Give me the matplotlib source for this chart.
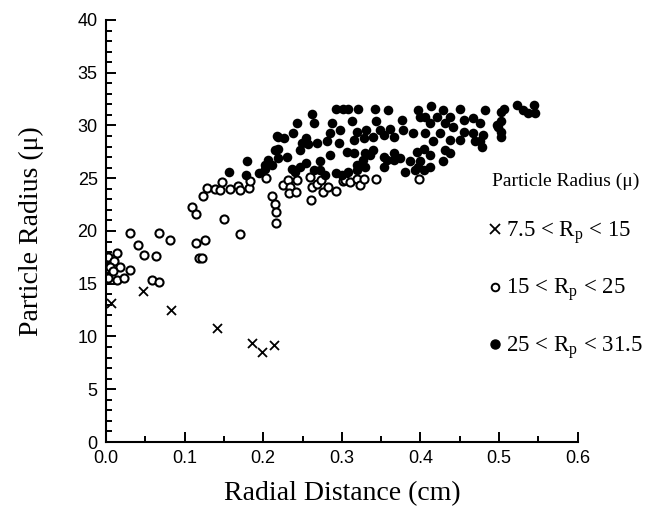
import numpy as np
import matplotlib
matplotlib.use('Agg')
import matplotlib.pyplot as plt
from matplotlib.lines import Line2D
from matplotlib.ticker import MultipleLocator, FormatStrFormatter

plt.rcParams['mathtext.fontset'] = 'custom'
plt.rcParams['mathtext.rm'] = 'Liberation Serif'

# 7.5 < Rp < 15
x_small = [0.006, 0.047, 0.083, 0.141, 0.186, 0.199, 0.214]
y_small = [13.2, 14.3, 12.5, 10.8, 9.4, 8.5, 9.2]

# 15 < Rp < 25
x_mid = [0.002, 0.014, 0.010, 0.005, 0.018, 0.009, 0.030, 0.003, 0.014, 0.023,
         0.031, 0.041, 0.048, 0.064, 0.068, 0.082, 0.058, 0.068,
         0.109, 0.115, 0.115, 0.126, 0.118, 0.122, 0.150, 0.171,
         0.123, 0.129, 0.139, 0.145, 0.148, 0.158, 0.168, 0.171, 0.182, 0.183,
         0.204, 0.211, 0.215, 0.216, 0.216, 0.225, 0.232, 0.234, 0.233, 0.243, 0.242,
         0.260, 0.262, 0.261, 0.268, 0.274, 0.276, 0.283, 0.293, 0.302,
         0.304, 0.310, 0.319, 0.323, 0.328, 0.344, 0.398]
y_mid = [17.5, 17.9, 17.2, 16.6, 16.6, 16.2, 16.3, 15.5, 15.4, 15.5,
         19.8, 18.7, 17.7, 17.6, 19.8, 19.1, 15.4, 15.2,
         22.3, 21.6, 18.9, 19.1, 17.4, 17.4, 21.1, 19.7,
         23.3, 24.1, 24.0, 23.9, 24.6, 24.0, 24.3, 23.9, 24.1, 24.7,
         25.0, 23.3, 22.6, 21.8, 20.8, 24.4, 24.8, 24.2, 23.6, 24.8, 23.7,
         25.1, 24.2, 22.9, 24.5, 24.8, 23.7, 24.2, 23.8, 24.7,
         24.8, 24.6, 24.9, 24.4, 24.9, 24.9, 24.9]

# 25 < Rp < 31.5
x_big = [0.156, 0.179, 0.178, 0.195, 0.202, 0.206, 0.217, 0.219,
         0.293, 0.262, 0.243, 0.264, 0.238, 0.287, 0.285, 0.298, 0.219, 0.226,
         0.249, 0.257, 0.268, 0.281, 0.296, 0.215, 0.247, 0.219, 0.230, 0.202,
         0.211, 0.236, 0.247, 0.255, 0.240, 0.272, 0.285, 0.272, 0.293, 0.300,
         0.278, 0.264, 0.255,
         0.302, 0.308, 0.321, 0.342, 0.359, 0.397, 0.313, 0.344, 0.376, 0.399,
         0.319, 0.331, 0.349, 0.361, 0.378, 0.315, 0.328, 0.340, 0.353, 0.366,
         0.391, 0.306, 0.315, 0.330, 0.340, 0.353, 0.366, 0.374, 0.395, 0.387,
         0.399, 0.319, 0.330, 0.380, 0.393, 0.308,
         0.429, 0.478, 0.497, 0.482, 0.480, 0.469, 0.438, 0.412, 0.397, 0.366,
         0.357, 0.353, 0.336, 0.327, 0.319,
         0.414, 0.429, 0.450, 0.503, 0.406, 0.421, 0.438, 0.455, 0.467, 0.412,
         0.431, 0.442, 0.476, 0.499, 0.406, 0.425, 0.455, 0.467, 0.503, 0.416,
         0.438, 0.450, 0.476, 0.404, 0.431, 0.412, 0.404,
         0.506, 0.523, 0.531, 0.544, 0.546, 0.537, 0.503, 0.503]
y_big = [25.6, 26.6, 25.3, 25.5, 26.3, 26.7, 29.0, 27.8,
         31.6, 31.1, 30.2, 30.2, 29.3, 30.2, 29.3, 29.6, 28.9, 28.8,
         28.3, 28.2, 28.3, 28.5, 28.3, 27.7, 27.7, 26.9, 27.0, 25.9,
         26.3, 25.9, 26.1, 26.4, 25.6, 26.6, 27.2, 25.8, 25.5, 25.3,
         25.3, 25.8, 28.8,
         31.6, 31.6, 31.6, 31.6, 31.5, 31.5, 30.4, 30.4, 30.5, 30.8,
         29.4, 29.6, 29.6, 29.7, 29.6, 28.6, 28.8, 28.9, 29.1, 28.9,
         29.3, 27.5, 27.4, 27.4, 27.7, 27.0, 27.4, 26.9, 27.5, 26.6,
         26.6, 26.3, 26.1, 25.6, 25.8, 25.6,
         26.6, 28.0, 30.0, 31.5, 29.1, 28.5, 27.4, 26.1, 26.1, 26.7,
         26.7, 26.1, 27.2, 26.7, 25.8,
         31.8, 31.5, 31.6, 31.3, 30.8, 30.8, 30.8, 30.5, 30.7, 30.2,
         30.2, 29.9, 30.2, 29.9, 29.3, 29.3, 29.4, 29.3, 29.4, 28.5,
         28.6, 28.6, 28.5, 27.8, 27.7, 27.2, 25.8,
         31.6, 31.9, 31.5, 31.9, 31.2, 31.2, 30.4, 28.9]

legend_title = 'Particle Radius (\u03bc)'
legend_labels = [r'7.5 < R$_\mathrm{p}$ < 15',
                 r'15 < R$_\mathrm{p}$ < 25',
                 r'25 < R$_\mathrm{p}$ < 31.5']

fig = plt.figure(figsize=(6.52, 5.12), dpi=100)
ax = fig.add_axes([0.1626, 0.1367, 0.7234, 0.8243])

ax.scatter(x_small, y_small, marker='x', s=42, color='black', linewidths=1.3, zorder=3)
ax.scatter(x_mid, y_mid, marker='o', s=34, facecolors='white', edgecolors='black',
           linewidths=1.5, zorder=2)
ax.scatter(x_big, y_big, marker='o', s=48, color='black', linewidths=0, zorder=3)

ax.set_xlim(0, 0.6)
ax.set_ylim(0, 40)
ax.xaxis.set_major_locator(MultipleLocator(0.1))
ax.xaxis.set_minor_locator(MultipleLocator(0.05))
ax.xaxis.set_major_formatter(FormatStrFormatter('%.1f'))
ax.yaxis.set_major_locator(MultipleLocator(5))
ax.yaxis.set_minor_locator(MultipleLocator(1))

for side in ['top', 'right']:
    ax.spines[side].set_visible(False)
for side in ['left', 'bottom']:
    ax.spines[side].set_linewidth(1.5)

ax.tick_params(which='both', direction='in', width=1.4)
ax.tick_params(which='major', length=7, labelsize=13, pad=6)
ax.tick_params(which='minor', length=4)
for lab in ax.get_xticklabels() + ax.get_yticklabels():
    lab.set_family('Liberation Sans')

ax.set_xlabel('Radial Distance (cm)', fontsize=20, family='Liberation Serif', labelpad=10)
ax.set_ylabel('Particle Radius (\u03bc)', fontsize=20, family='Liberation Serif', labelpad=24)

handles = [
    Line2D([], [], ls='none', marker='x', color='black', ms=6.5, mew=1.3),
    Line2D([], [], ls='none', marker='o', mfc='white', mec='black', ms=5.5, mew=1.4),
    Line2D([], [], ls='none', marker='o', color='black', ms=6.5),
]
leg = fig.legend(handles, legend_labels, title=legend_title, loc='upper left',
                 bbox_to_anchor=(0.737, 0.685), bbox_transform=fig.transFigure,
                 frameon=False, borderpad=0, handlelength=0.3, handletextpad=0.3,
                 labelspacing=1.3, alignment='left',
                 prop={'family': 'Liberation Serif', 'size': 16.5},
                 title_fontproperties={'family': 'Liberation Serif', 'size': 14})

fig.savefig('out.png', dpi=100)
